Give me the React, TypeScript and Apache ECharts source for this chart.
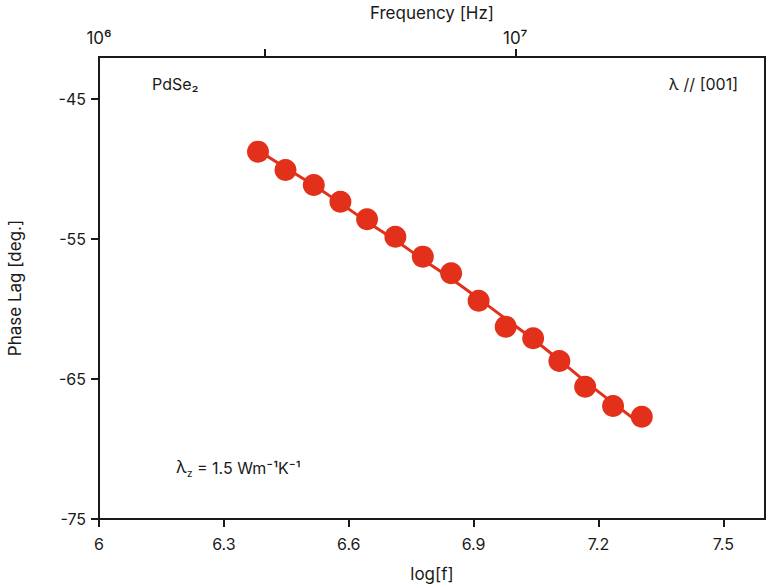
import React, { useEffect, useRef } from "react";
import * as echarts from "echarts";

const logF = [6.382, 6.448, 6.516, 6.58, 6.644, 6.712, 6.778, 6.846, 6.912, 6.977, 7.043, 7.106, 7.168, 7.235, 7.304];
const phaseLag = [-48.76, -50.07, -51.14, -52.34, -53.59, -54.84, -56.26, -57.45, -59.41, -61.26, -62.09, -63.71, -65.55, -66.93, -67.69];
const fitLag = [-48.67, -49.91, -51.16, -52.45, -53.76, -55.09, -56.46, -57.84, -59.26, -60.7, -62.16, -63.65, -65.17, -66.71, -68.28];
const topTickValues = [6.398, 7];
const topLabelValues = [6, 7];
const topLabels: Record<string, string> = { "6": "10⁶", "7": "10⁷" };

const RED = "#e3301a";
const INK = "#1a1a1a";
const FONT = "Inter";

export default function App() {
  const ref = useRef<HTMLDivElement>(null);
  useEffect(() => {
    if (!ref.current) return;
    const chart = echarts.init(ref.current, null, { renderer: "svg" });
    chart.setOption({
      animation: false,
      textStyle: { fontFamily: FONT },
      grid: {
        left: 99,
        right: 3,
        top: 57,
        bottom: 65,
        containLabel: false,
        outerBoundsMode: "none",
        show: true,
        borderColor: INK,
        borderWidth: 2,
        backgroundColor: "transparent",
      },
      xAxis: [
        {
          type: "value",
          position: "bottom",
          min: 6,
          max: 7.6,
          interval: 0.3,
          name: "log[f]",
          nameLocation: "middle",
          nameGap: 46,
          nameTextStyle: { fontSize: 17, color: INK, fontFamily: FONT },
          axisLine: { show: true, lineStyle: { color: INK, width: 2 } },
          axisTick: { show: true, inside: false, length: 8, lineStyle: { color: INK, width: 2 } },
          axisLabel: { fontSize: 16, color: INK, margin: 17, showMaxLabel: false, fontFamily: FONT },
          splitLine: { show: false },
        },
        {
          type: "value",
          position: "top",
          min: 6,
          max: 7.6,
          name: "Frequency [Hz]",
          nameLocation: "middle",
          nameGap: 36,
          nameTextStyle: { fontSize: 17, color: INK, fontFamily: FONT },
          axisLine: { show: true, lineStyle: { color: INK, width: 2 } },
          axisTick: { show: true, length: 8, customValues: topTickValues, lineStyle: { color: INK, width: 2 } },
          axisLabel: {
            fontSize: 17,
            color: INK,
            margin: 11,
            fontFamily: FONT,
            customValues: topLabelValues,
            formatter: (v: number) => topLabels[String(Math.round(v))] ?? "",
          },
          splitLine: { show: false },
        },
      ],
      yAxis: {
        type: "value",
        min: -75,
        max: -42,
        interval: 10,
        name: "Phase Lag [deg.]",
        nameLocation: "middle",
        nameGap: 76,
        nameTextStyle: { fontSize: 17, color: INK, fontFamily: FONT },
        axisLine: { show: true, lineStyle: { color: INK, width: 2 } },
        axisTick: { show: true, length: 8, lineStyle: { color: INK, width: 2 } },
        axisLabel: { fontSize: 16, color: INK, margin: 13, showMaxLabel: false, fontFamily: FONT },
        splitLine: { show: false },
      },
      series: [
        {
          type: "line",
          xAxisIndex: 0,
          data: logF.map((x, i) => [x, fitLag[i]]),
          smooth: true,
          showSymbol: false,
          symbol: "none",
          lineStyle: { color: RED, width: 3 },
          z: 2,
        },
        {
          type: "scatter",
          xAxisIndex: 0,
          data: logF.map((x, i) => [x, phaseLag[i]]),
          symbol: "circle",
          symbolSize: 22,
          itemStyle: { color: RED, opacity: 1 },
          z: 3,
        },
      ],
      graphic: [
        {
          type: "text",
          left: 152,
          top: 76,
          style: { text: "PdSe₂", fontSize: 16, fill: INK, fontFamily: FONT },
        },
        {
          type: "text",
          right: 30,
          top: 76,
          style: { text: "λ // [001]", fontSize: 16, fill: INK, fontFamily: FONT },
        },
        {
          type: "text",
          left: 176,
          top: 458,
          style: {
            text: "{l|λ}{s|z}{n| = 1.5 Wm⁻¹K⁻¹}",
            fill: INK,
            fontFamily: FONT,
            rich: {
              l: { fontSize: 17, fill: INK, fontFamily: FONT, verticalAlign: "top" },
              s: { fontSize: 10, fill: INK, fontFamily: FONT, padding: [10, 0, 0, 0] },
              n: { fontSize: 16, fill: INK, fontFamily: FONT },
            },
          },
        },
      ],
    });
    return () => chart.dispose();
  }, []);
  return <div ref={ref} style={{ width: 768, height: 584, position: "absolute", left: 0, top: 0 }} />;
}
